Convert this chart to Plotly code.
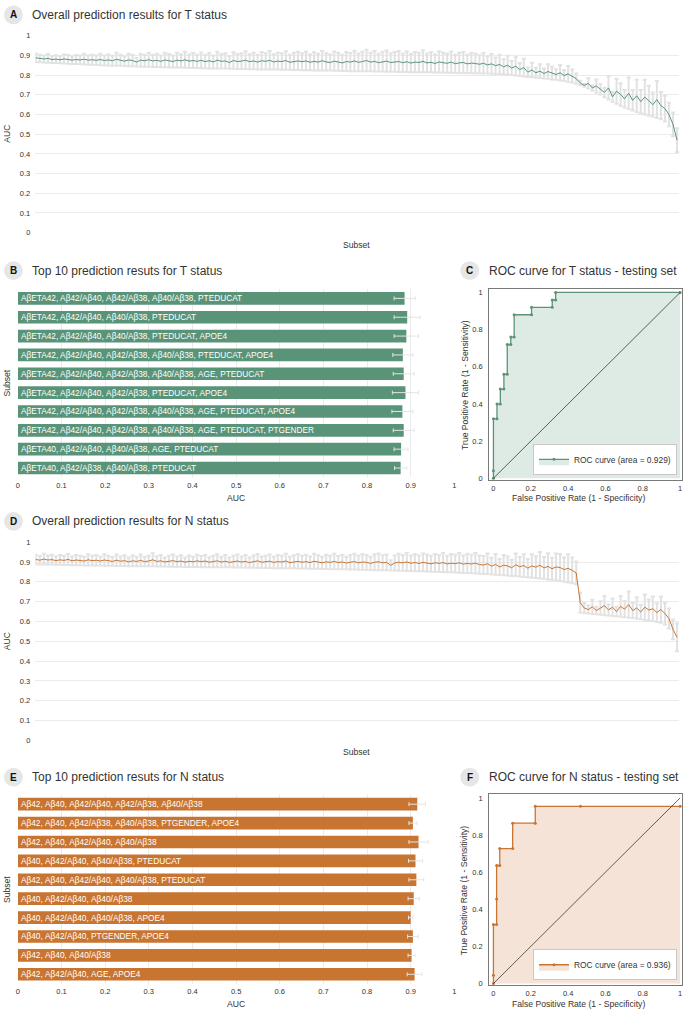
import plotly.graph_objects as go

W, H = 685, 1015
FONT = "Liberation Sans, Arial, sans-serif"
GREEN = "#5a9478"
ORANGE = "#c97532"
GREEN_FILL = "rgba(90,148,120,0.2)"
ORANGE_FILL = "rgba(201,117,50,0.2)"
BAND = "#e2e2e2"
GRID = "#ebebeb"
TXT = "#333333"

# ---------------- Panel A: overall T status (sorted subsets) ----------------
T_mean = [0.888, 0.884, 0.882, 0.885, 0.879, 0.881, 0.878, 0.882, 0.880, 0.876, 0.879, 0.877, 0.881, 0.876, 0.878, 0.875,
          0.879, 0.874, 0.877, 0.873, 0.880, 0.875, 0.871, 0.877, 0.874, 0.866, 0.876, 0.873, 0.878, 0.872, 0.875, 0.870,
          0.877, 0.873, 0.869, 0.876, 0.872, 0.878, 0.871, 0.874, 0.870,
          0.875, 0.869, 0.873, 0.867, 0.876, 0.870, 0.872, 0.864, 0.874, 0.869, 0.871, 0.876, 0.868, 0.872, 0.866, 0.873,
          0.870, 0.875, 0.867, 0.871, 0.869, 0.874, 0.865, 0.870, 0.872,
          0.868, 0.872, 0.865, 0.870, 0.866, 0.873, 0.867, 0.864, 0.871, 0.868, 0.862, 0.869, 0.866, 0.872, 0.865, 0.869,
          0.874, 0.866, 0.870, 0.863, 0.868, 0.871, 0.864, 0.867, 0.869,
          0.863, 0.868, 0.861, 0.866, 0.864, 0.870, 0.862, 0.865, 0.859, 0.867, 0.863, 0.860, 0.866, 0.858, 0.862, 0.864,
          0.857, 0.861, 0.859, 0.855,
          0.860, 0.852, 0.857, 0.848, 0.854, 0.842, 0.850, 0.836, 0.845, 0.828,
          0.838, 0.815, 0.826, 0.812, 0.820, 0.808, 0.818, 0.810, 0.803, 0.812, 0.798, 0.806, 0.795,
          0.782, 0.760, 0.748, 0.758, 0.735, 0.745, 0.728,
          0.712, 0.735, 0.690, 0.718, 0.702, 0.680, 0.708, 0.672, 0.695, 0.665, 0.688, 0.670, 0.650, 0.676, 0.645,
          0.630, 0.600, 0.550, 0.470]
T_lower = [0.866, 0.865, 0.864, 0.863, 0.862, 0.861, 0.860, 0.859, 0.858, 0.857, 0.856, 0.855, 0.854, 0.853, 0.852, 0.851,
           0.850, 0.849, 0.849, 0.848, 0.847, 0.847, 0.846, 0.845, 0.845, 0.844, 0.843, 0.843, 0.842, 0.841, 0.841, 0.840,
           0.840, 0.839, 0.839, 0.838, 0.838, 0.837, 0.837, 0.836, 0.836,
           0.835, 0.835, 0.834, 0.834, 0.833, 0.833, 0.833, 0.832, 0.832, 0.831, 0.831, 0.831, 0.830, 0.830, 0.829, 0.829,
           0.829, 0.828, 0.828, 0.828, 0.827, 0.827, 0.827, 0.826, 0.826,
           0.825, 0.825, 0.825, 0.824, 0.824, 0.823, 0.823, 0.823, 0.822, 0.822, 0.821, 0.821, 0.820, 0.820, 0.820, 0.819,
           0.819, 0.819, 0.818, 0.818, 0.818, 0.817, 0.817, 0.817, 0.816,
           0.816, 0.816, 0.815, 0.815, 0.815, 0.814, 0.814, 0.814, 0.813, 0.813, 0.813, 0.812, 0.812, 0.812, 0.811, 0.811,
           0.811, 0.810, 0.810, 0.809,
           0.808, 0.808, 0.807, 0.806, 0.805, 0.804, 0.802, 0.800, 0.798, 0.795,
           0.793, 0.791, 0.789, 0.787, 0.785, 0.783, 0.781, 0.778, 0.776, 0.773, 0.770, 0.766, 0.762,
           0.756, 0.749, 0.741, 0.732, 0.722, 0.712, 0.702,
           0.688, 0.676, 0.665, 0.655, 0.645, 0.636, 0.628, 0.620, 0.613, 0.606, 0.600, 0.594, 0.588, 0.582, 0.576,
           0.565, 0.540, 0.490, 0.410]

# ---------------- Panel D: overall N status (sorted subsets) ----------------
N_mean = [0.913, 0.909, 0.915, 0.910, 0.912, 0.907, 0.911, 0.908, 0.913, 0.906, 0.910, 0.908, 0.905, 0.911, 0.907, 0.909,
          0.905, 0.910, 0.906, 0.903, 0.909, 0.904, 0.907, 0.901, 0.906, 0.903, 0.908, 0.902, 0.905, 0.911, 0.903, 0.906,
          0.900, 0.904, 0.907, 0.902, 0.905, 0.899, 0.904, 0.901, 0.906,
          0.902, 0.905, 0.899, 0.903, 0.906, 0.900, 0.904, 0.898, 0.902, 0.905, 0.900, 0.903, 0.897, 0.902, 0.906, 0.899,
          0.901, 0.904, 0.898, 0.902, 0.900, 0.905, 0.897, 0.901, 0.903,
          0.899, 0.902, 0.897, 0.904, 0.900, 0.896, 0.901, 0.898, 0.903, 0.897, 0.900, 0.895, 0.899, 0.902, 0.896, 0.900,
          0.898, 0.893, 0.899, 0.901, 0.896, 0.898, 0.883, 0.895, 0.899,
          0.896, 0.900, 0.894, 0.897, 0.893, 0.898, 0.895, 0.891, 0.896, 0.893, 0.897, 0.890, 0.894, 0.892, 0.896, 0.889,
          0.893, 0.890, 0.894, 0.887,
          0.885, 0.891, 0.879, 0.888, 0.875, 0.884, 0.880, 0.871, 0.886, 0.876, 0.882, 0.869, 0.880, 0.874, 0.884, 0.870,
          0.878, 0.866, 0.875, 0.872, 0.862, 0.868, 0.858, 0.845,
          0.695, 0.668, 0.660, 0.674, 0.655, 0.668, 0.680, 0.658, 0.672, 0.650, 0.676, 0.662, 0.685, 0.655, 0.668, 0.648,
          0.672, 0.658, 0.664, 0.645, 0.660,
          0.640, 0.615, 0.560, 0.520]
N_lower = [0.889, 0.888, 0.888, 0.887, 0.887, 0.886, 0.886, 0.885, 0.885, 0.884, 0.884, 0.884, 0.883, 0.883, 0.882, 0.882,
           0.882, 0.881, 0.881, 0.881, 0.880, 0.880, 0.880, 0.879, 0.879, 0.879, 0.878, 0.878, 0.878, 0.878, 0.877, 0.877,
           0.877, 0.876, 0.876, 0.876, 0.876, 0.875, 0.875, 0.875, 0.875,
           0.874, 0.874, 0.874, 0.874, 0.873, 0.873, 0.873, 0.873, 0.872, 0.872, 0.872, 0.871, 0.871, 0.871, 0.871, 0.870,
           0.870, 0.870, 0.869, 0.869, 0.869, 0.868, 0.868, 0.868, 0.867,
           0.867, 0.867, 0.866, 0.866, 0.866, 0.865, 0.865, 0.864, 0.864, 0.864, 0.863, 0.863, 0.862, 0.862, 0.861, 0.861,
           0.860, 0.860, 0.859, 0.859, 0.858, 0.858, 0.857, 0.857, 0.856,
           0.856, 0.855, 0.855, 0.854, 0.853, 0.853, 0.852, 0.851, 0.851, 0.850, 0.849, 0.848, 0.848, 0.847, 0.846, 0.845,
           0.844, 0.843, 0.842, 0.841,
           0.840, 0.839, 0.837, 0.836, 0.835, 0.833, 0.832, 0.830, 0.829, 0.827, 0.825, 0.823, 0.821, 0.819, 0.817, 0.815,
           0.812, 0.810, 0.807, 0.804, 0.801, 0.797, 0.793, 0.788,
           0.645, 0.643, 0.640, 0.638, 0.636, 0.634, 0.632, 0.630, 0.628, 0.626, 0.624, 0.621, 0.619, 0.617, 0.614, 0.611,
           0.608, 0.605, 0.602, 0.598, 0.594,
           0.585, 0.565, 0.510, 0.450]

# ---------------- Panel B: top 10 for T ----------------
topT_labels = [
    "AβETA42, Aβ42/Aβ40, Aβ42/Aβ38, Aβ40/Aβ38, PTEDUCAT",
    "AβETA42, Aβ42/Aβ40, Aβ40/Aβ38, PTEDUCAT",
    "AβETA42, Aβ42/Aβ40, Aβ40/Aβ38, PTEDUCAT, APOE4",
    "AβETA42, Aβ42/Aβ40, Aβ42/Aβ38, Aβ40/Aβ38, PTEDUCAT, APOE4",
    "AβETA42, Aβ42/Aβ40, Aβ42/Aβ38, Aβ40/Aβ38, AGE, PTEDUCAT",
    "AβETA42, Aβ42/Aβ40, Aβ42/Aβ38, PTEDUCAT, APOE4",
    "AβETA42, Aβ42/Aβ40, Aβ42/Aβ38, Aβ40/Aβ38, AGE, PTEDUCAT, APOE4",
    "AβETA42, Aβ42/Aβ40, Aβ42/Aβ38, Aβ40/Aβ38, AGE, PTEDUCAT, PTGENDER",
    "AβETA40, Aβ42/Aβ40, Aβ40/Aβ38, AGE, PTEDUCAT",
    "AβETA40, Aβ42/Aβ38, Aβ40/Aβ38, PTEDUCAT",
]
topT_auc = [0.886, 0.892, 0.890, 0.882, 0.884, 0.888, 0.881, 0.884, 0.878, 0.877]
topT_sd = [0.024, 0.030, 0.028, 0.023, 0.024, 0.030, 0.024, 0.024, 0.016, 0.014]

# ---------------- Panel E: top 10 for N ----------------
topN_labels = [
    "Aβ42, Aβ40, Aβ42/Aβ40, Aβ42/Aβ38, Aβ40/Aβ38",
    "Aβ42, Aβ40, Aβ42/Aβ38, Aβ40/Aβ38, PTGENDER, APOE4",
    "Aβ42, Aβ40, Aβ42/Aβ40, Aβ40/Aβ38",
    "Aβ40, Aβ42/Aβ40, Aβ40/Aβ38, PTEDUCAT",
    "Aβ42, Aβ40, Aβ42/Aβ40, Aβ40/Aβ38, PTEDUCAT",
    "Aβ40, Aβ42/Aβ40, Aβ40/Aβ38",
    "Aβ40, Aβ42/Aβ40, Aβ40/Aβ38, APOE4",
    "Aβ40, Aβ42/Aβ40, PTGENDER, APOE4",
    "Aβ42, Aβ40, Aβ40/Aβ38",
    "Aβ42, Aβ42/Aβ40, AGE, APOE4",
]
topN_auc = [0.915, 0.905, 0.918, 0.911, 0.913, 0.907, 0.900, 0.905, 0.902, 0.909]
topN_sd = [0.019, 0.009, 0.022, 0.016, 0.017, 0.013, 0.005, 0.012, 0.008, 0.017]

# ---------------- Panels C / F: ROC curves ----------------
rocT_fpr = [0, 0, 0, 0.019, 0.019, 0.037, 0.037, 0.056, 0.056, 0.074, 0.074, 0.093, 0.093, 0.111, 0.111,
            0.204, 0.204, 0.315, 0.315, 0.333, 0.333, 1.0]
rocT_tpr = [0, 0.04, 0.32, 0.32, 0.40, 0.40, 0.48, 0.48, 0.56, 0.56, 0.72, 0.72, 0.76, 0.76, 0.88,
            0.88, 0.92, 0.92, 0.96, 0.96, 1.0, 1.0]
rocT_area = 0.929
rocN_fpr = [0, 0, 0, 0.017, 0.017, 0.017, 0.034, 0.034, 0.103, 0.103, 0.224, 0.224, 0.466, 1.0]
rocN_tpr = [0, 0.045, 0.318, 0.318, 0.455, 0.636, 0.636, 0.727, 0.727, 0.864, 0.864, 0.955, 0.955, 0.955]
rocN_area = 0.936
chance = [0, 1]

AXIS_TITLE = 8.6
TICK = 7.5


def dx(a, b):
    return [a / W, b / W]


def dy(top, bottom):
    return [1 - bottom / H, 1 - top / H]


fig = go.Figure()


def overall(mean, lower, color, xa, ya):
    idx = list(range(1, len(mean) + 1))
    sd = [round(m - l, 4) for m, l in zip(mean, lower)]
    fig.add_trace(go.Scatter(x=idx, y=mean, mode="markers", marker=dict(size=1, opacity=0),
                             error_y=dict(type="data", array=sd, color=BAND, thickness=2.0, width=2),
                             xaxis=xa, yaxis=ya, showlegend=False, hoverinfo="skip"))
    fig.add_trace(go.Scatter(x=idx, y=mean, mode="lines", line=dict(color=color, width=1),
                             xaxis=xa, yaxis=ya, showlegend=False))


def top10(labels, auc, sd, color, xa, ya):
    fig.add_trace(go.Bar(x=auc, y=labels, orientation="h", marker=dict(color=color, line=dict(width=0)),
                         error_x=dict(type="data", array=sd, color="#e4e4e4", thickness=1, width=2),
                         text=labels, textposition="inside", insidetextanchor="start", constraintext="none",
                         textfont=dict(color="white", size=8.3, family=FONT),
                         xaxis=xa, yaxis=ya, showlegend=False))


def roc(fpr, tpr, area, color, fill, xa, ya, leg):
    fig.add_trace(go.Scatter(x=fpr, y=tpr, mode="lines+markers", fill="tozeroy", fillcolor=fill,
                             line=dict(color=color, width=1.3), marker=dict(size=3, color=color),
                             name=f"ROC curve (area = {area})", xaxis=xa, yaxis=ya, legend=leg,
                             showlegend=True))
    fig.add_trace(go.Scatter(x=chance, y=chance, mode="lines", line=dict(color="#222222", width=0.7),
                             xaxis=xa, yaxis=ya, showlegend=False, hoverinfo="skip"))


overall(T_mean, T_lower, GREEN, "x", "y")
top10(topT_labels, topT_auc, topT_sd, GREEN, "x2", "y2")
roc(rocT_fpr, rocT_tpr, rocT_area, GREEN, GREEN_FILL, "x3", "y3", "legend")
overall(N_mean, N_lower, ORANGE, "x4", "y4")
top10(topN_labels, topN_auc, topN_sd, ORANGE, "x5", "y5")
roc(rocN_fpr, rocN_tpr, rocN_area, ORANGE, ORANGE_FILL, "x6", "y6", "legend2")

tickfont = dict(size=TICK, color=TXT, family=FONT)
n = len(T_mean)
ov_range = [1 - 0.5 * 159 / 645, n + 2 * 159 / 645]

ov_x = dict(range=ov_range, showticklabels=False, showgrid=False, zeroline=False, showline=False, ticks="")
ov_y = dict(range=[0, 1], dtick=0.1, tick0=0, showgrid=True, gridcolor=GRID, gridwidth=1, zeroline=False,
            showline=False, ticks="", tickfont=tickfont, ticklabelstandoff=4)
bar_x = dict(range=[0, 1], dtick=0.1, tick0=0, showgrid=True, gridcolor=GRID, zeroline=False, showline=False,
             ticks="", tickfont=tickfont, ticklabelstandoff=2)
bar_y = dict(type="category", autorange="reversed", showticklabels=False, showgrid=False, zeroline=False,
             showline=False, ticks="")
roc_x = dict(range=[-0.023, 1.01], tickvals=[0, 0.2, 0.4, 0.6, 0.8, 1], showgrid=False, zeroline=False,
             showline=True, mirror=True, linecolor="#7a7a7a", linewidth=1, ticks="", tickfont=tickfont,
             ticklabelstandoff=1)
roc_y = dict(range=[-0.01, 1.02], tickvals=[0, 0.2, 0.4, 0.6, 0.8, 1], showgrid=False, zeroline=False,
             showline=True, mirror=True, linecolor="#7a7a7a", linewidth=1, ticks="", tickfont=tickfont,
             ticklabelstandoff=4)

legend_style = dict(xanchor="right", yanchor="bottom", bgcolor="white", bordercolor="#c8c8c8", borderwidth=1,
                    font=dict(size=8.4, color=TXT, family=FONT), itemwidth=30, tracegroupgap=0)

layout = dict(
    width=W, height=H, autosize=False, margin=dict(l=0, r=0, t=0, b=0),
    paper_bgcolor="white", plot_bgcolor="white", font=dict(family=FONT, color=TXT),
    bargap=0.33,
    xaxis=dict(domain=dx(33.5, 681), anchor="y", **ov_x),
    yaxis=dict(domain=dy(32, 230.7), anchor="x", **ov_y),
    xaxis2=dict(domain=dx(16, 455), anchor="y2", **bar_x),
    yaxis2=dict(domain=dy(287.5, 477.7), anchor="x2", **bar_y),
    xaxis3=dict(domain=dx(490, 684), anchor="y3", **roc_x),
    yaxis3=dict(domain=dy(287.3, 480.4), anchor="x3", **roc_y),
    xaxis4=dict(domain=dx(33.5, 681), anchor="y4", **ov_x),
    yaxis4=dict(domain=dy(543, 743), anchor="x4", **ov_y),
    xaxis5=dict(domain=dx(16, 455), anchor="y5", **bar_x),
    yaxis5=dict(domain=dy(797.8, 988.5), anchor="x5", **bar_y),
    xaxis6=dict(domain=dx(490, 684), anchor="y6", **roc_x),
    yaxis6=dict(domain=dy(797.3, 990.2), anchor="x6", **roc_y),
    legend=dict(x=679 / W, y=1 - 475 / H, **legend_style),
    legend2=dict(x=679 / W, y=1 - 985 / H, **legend_style),
)
fig.update_layout(**layout)

annotations = []
shapes = []


def panel_title(letter, bx, by, text):
    r = 9.5
    shapes.append(dict(type="circle", xref="paper", yref="paper", x0=(bx - r) / W, x1=(bx + r) / W,
                       y0=1 - (by + r) / H, y1=1 - (by - r) / H, fillcolor="#e6e6e6",
                       line=dict(width=0), layer="below"))
    annotations.append(dict(x=bx / W, y=1 - by / H, xref="paper", yref="paper", text=f"<b>{letter}</b>",
                            showarrow=False, xanchor="center", yanchor="middle",
                            font=dict(size=10, color="#111111", family=FONT)))
    annotations.append(dict(x=(bx + 17) / W, y=1 - by / H, xref="paper", yref="paper", text=text,
                            showarrow=False, xanchor="left", yanchor="middle",
                            font=dict(size=12, color=TXT, family=FONT)))


def axis_text(x, y, text, rot=0):
    annotations.append(dict(x=x / W, y=1 - y / H, xref="paper", yref="paper", text=text, showarrow=False,
                            xanchor="center", yanchor="middle", textangle=rot,
                            font=dict(size=AXIS_TITLE, color=TXT, family=FONT)))


panel_title("A", 11.5, 11, "Overall prediction results for T status")
panel_title("B", 11.5, 269, "Top 10 prediction resuts for T status")
panel_title("C", 470.5, 269, "ROC curve for T status - testing set")
panel_title("D", 11.5, 522, "Overall prediction results for N status")
panel_title("E", 11.5, 780, "Top 10 prediction resuts for N status")
panel_title("F", 470.5, 780, "ROC curve for N status - testing set")

axis_text(5, 131, "AUC", -90)
axis_text(357, 243, "Subset")
axis_text(5, 382, "Subset", -90)
axis_text(235.5, 498, "AUC")
axis_text(465, 384, "True Positive Rate (1 - Sensitivity)", -90)
axis_text(580, 498, "False Positive Rate (1 - Specificity)")
axis_text(5, 643, "AUC", -90)
axis_text(357, 755, "Subset")
axis_text(5, 893, "Subset", -90)
axis_text(235.5, 1009, "AUC")
axis_text(465, 894, "True Positive Rate (1 - Sensitivity)", -90)
axis_text(580, 1009, "False Positive Rate (1 - Specificity)")

fig.update_layout(annotations=annotations, shapes=shapes)

fig.write_html("out.html", config={"displayModeBar": False},
               post_script="document.body.style.margin='0';document.body.style.overflow='hidden';")
